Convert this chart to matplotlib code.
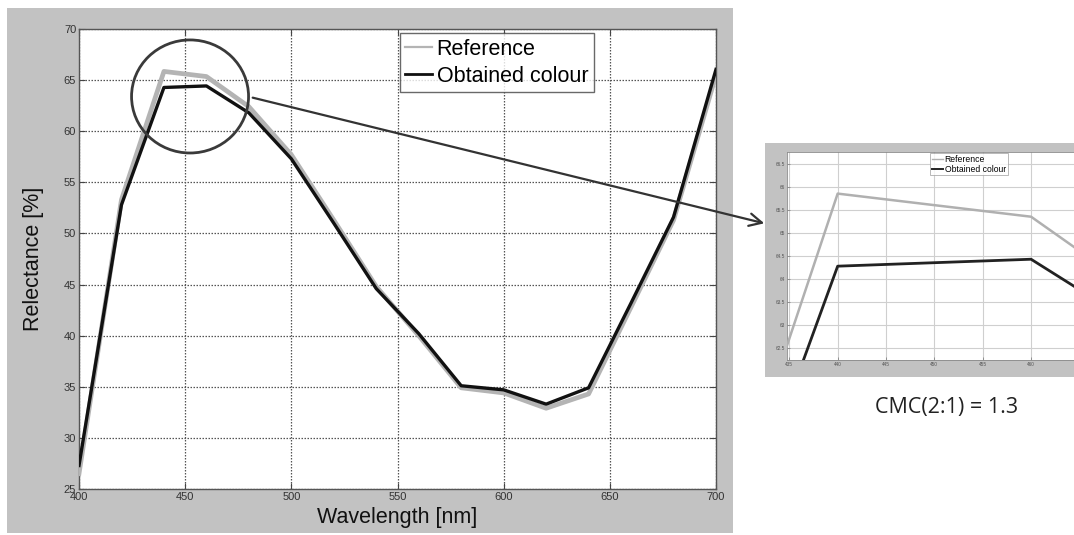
import matplotlib
matplotlib.use("Agg")
import matplotlib.pyplot as plt
from matplotlib.patches import Rectangle, Ellipse, FancyArrowPatch

# ---- data ----
wavelength = [400, 420, 440, 460, 480, 500, 520, 540, 560, 580, 600, 620, 640, 660, 680, 700]
reference = [26.5, 53.3, 65.85, 65.35, 62.4, 57.7, 51.3, 44.8, 40.0, 34.9, 34.4, 32.9, 34.3, 42.8, 51.3, 65.5]
obtained = [27.3, 52.8, 64.28, 64.43, 61.8, 57.3, 51.0, 44.6, 40.2, 35.1, 34.7, 33.3, 34.9, 43.2, 51.6, 66.05]
series_names = ["Reference", "Obtained colour"]
x_ticks = [400, 450, 500, 550, 600, 650, 700]
y_ticks = [25, 30, 35, 40, 45, 50, 55, 60, 65, 70]
inset_x_ticks = [435, 440, 445, 450, 455, 460]
inset_y_ticks = [62.5, 63, 63.5, 64, 64.5, 65, 65.5, 66, 66.5]
annotation_text = "CMC(2:1) = 1.3"

W, H = 1074, 535
plt.rcParams["font.family"] = ["Liberation Sans", "DejaVu Sans"]
fig = plt.figure(figsize=(W / 100, H / 100), dpi=100)
fig.patch.set_facecolor("white")

def px_rect(x0, y0, x1, y1):
    return [x0 / W, (H - y1) / H, (x1 - x0) / W, (y1 - y0) / H]

GRAY_BG = "#c2c2c2"
REF_COL = "#b4b4b4"
OBT_COL = "#111111"

# main grey panel
r = px_rect(7, 8, 733, 533)
fig.add_artist(Rectangle((r[0], r[1]), r[2], r[3], transform=fig.transFigure,
                         facecolor=GRAY_BG, edgecolor="none", zorder=-10))
# inset grey panel
r = px_rect(765, 143, 1074, 377)
fig.add_artist(Rectangle((r[0], r[1]), r[2], r[3], transform=fig.transFigure,
                         facecolor=GRAY_BG, edgecolor="none", zorder=-10))

# ---- main axes ----
ax = fig.add_axes(px_rect(79, 29, 716, 489))
ax.set_zorder(1)
ax.set_facecolor("white")
ax.plot(wavelength, reference, color=REF_COL, lw=3.4, zorder=3, label=series_names[0])
ax.plot(wavelength, obtained, color=OBT_COL, lw=2.4, zorder=4, label=series_names[1])
ax.set_xlim(400, 700)
ax.set_ylim(25, 70)
ax.set_xticks(x_ticks)
ax.set_yticks(y_ticks)
ax.grid(True, linestyle=(0, (1.2, 1.2)), color="#555555", lw=0.9)
ax.tick_params(direction="in", length=4, width=0.8, top=True, right=True,
               labelsize=8, labelcolor="#333333", color="#444444", pad=2)
for s in ax.spines.values():
    s.set_color("#555555")
    s.set_linewidth(1.0)
ax.set_xlabel("Wavelength [nm]", fontsize=15.5, color="#111111", labelpad=4)
ax.set_ylabel("Relectance [%]", fontsize=15.5, color="#111111", labelpad=14)

leg = ax.legend(loc="upper left", bbox_to_anchor=(0.504, 0.991), borderaxespad=0,
                fontsize=15.5, frameon=True, fancybox=False, handlelength=1.25,
                handletextpad=0.2, labelspacing=0.3, borderpad=0.25)
leg.get_frame().set_edgecolor("#444444")
leg.get_frame().set_linewidth(1.0)
lh = leg.get_lines()
lh[0].set_linewidth(1.6)
lh[1].set_linewidth(2.0)

# circle highlight
ell = Ellipse((452.3, 63.4), width=55.1, height=11.06, fill=False,
              edgecolor="#3a3a3a", lw=2.0, zorder=6, clip_on=False)
ax.add_patch(ell)

# ---- inset axes ----
ax2 = fig.add_axes(px_rect(787, 152, 1074, 360))
ax2.set_zorder(1)
ax2.set_facecolor("white")
ax2.plot(wavelength, reference, color="#b0b0b0", lw=1.8, zorder=3, label=series_names[0])
ax2.plot(wavelength, obtained, color="#222222", lw=2.0, zorder=4, label=series_names[1])
ax2.set_xlim(434.76, 464.44)
ax2.set_ylim(62.25, 66.75)
ax2.set_xticks(inset_x_ticks)
ax2.set_yticks(inset_y_ticks)
ax2.set_xticklabels([str(v) for v in inset_x_ticks])
ax2.set_yticklabels([f"{v:g}" for v in inset_y_ticks])
ax2.grid(True, linestyle="-", color="#cfcfcf", lw=0.8)
ax2.tick_params(direction="in", length=2, width=0.5, labelsize=3.4,
                labelcolor="#555555", color="#777777", pad=1.5)
for s in ax2.spines.values():
    s.set_color("#888888")
    s.set_linewidth(0.6)
leg2 = ax2.legend(loc="upper left", bbox_to_anchor=((930 - 787) / 287, 0.995), borderaxespad=0,
                  fontsize=6.2, frameon=True, fancybox=False, handlelength=1.3,
                  handletextpad=0.2, labelspacing=0.1, borderpad=0.2)
leg2.get_frame().set_edgecolor("#999999")
leg2.get_frame().set_linewidth(0.6)
leg2.get_lines()[0].set_linewidth(1.0)
leg2.get_lines()[1].set_linewidth(1.4)

# arrow to inset
arrow = FancyArrowPatch(
    (250 / W, (H - 97) / H), (767 / W, (H - 224) / H), transform=fig.transFigure,
    arrowstyle="->,head_length=6,head_width=3", color="#333333", lw=1.6,
    mutation_scale=1.5, zorder=10)
fig.add_artist(arrow)

# CMC text
fig.text(947 / W, (H - 407) / H, annotation_text, ha="center", va="center",
         fontsize=15.5, color="#222222", family=["Open Sans", "DejaVu Sans"], zorder=10)

fig.savefig("out.png", dpi=100)
